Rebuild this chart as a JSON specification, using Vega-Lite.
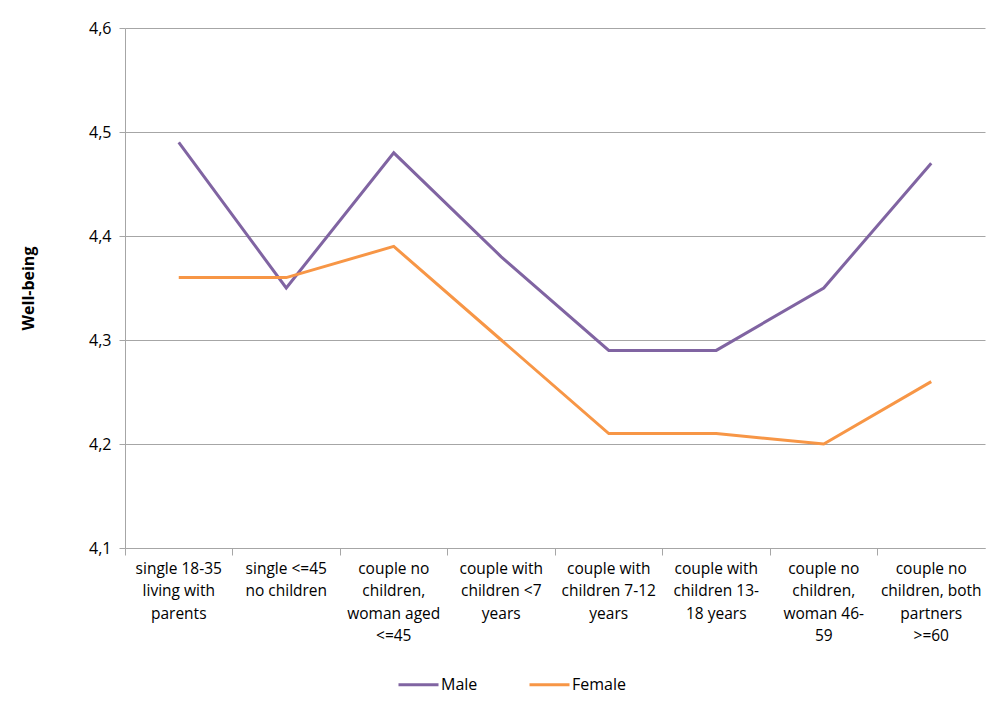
{
  "$schema": "https://vega.github.io/schema/vega-lite/v6.json",
  "width": 860,
  "height": 520,
  "autosize": {"type": "none"},
  "padding": {"left": 125, "top": 28, "right": 15, "bottom": 165},
  "background": "white",
  "config": {
    "view": {"stroke": null},
    "font": "Open Sans",
    "axis": {"labelFont": "Open Sans", "titleFont": "Open Sans", "labelColor": "#000", "titleColor": "#000"}
  },
  "data": {
    "values": [
      {"household": "single 18-35 living with parents", "order": 1, "sex": "Male", "wellbeing": 4.49},
      {"household": "single <=45 no children", "order": 2, "sex": "Male", "wellbeing": 4.35},
      {"household": "couple no children, woman aged <=45", "order": 3, "sex": "Male", "wellbeing": 4.48},
      {"household": "couple with children <7 years", "order": 4, "sex": "Male", "wellbeing": 4.38},
      {"household": "couple with children 7-12 years", "order": 5, "sex": "Male", "wellbeing": 4.29},
      {"household": "couple with children 13-18 years", "order": 6, "sex": "Male", "wellbeing": 4.29},
      {"household": "couple no children, woman 46-59", "order": 7, "sex": "Male", "wellbeing": 4.35},
      {"household": "couple no children, both partners >=60", "order": 8, "sex": "Male", "wellbeing": 4.47},
      {"household": "single 18-35 living with parents", "order": 1, "sex": "Female", "wellbeing": 4.36},
      {"household": "single <=45 no children", "order": 2, "sex": "Female", "wellbeing": 4.36},
      {"household": "couple no children, woman aged <=45", "order": 3, "sex": "Female", "wellbeing": 4.39},
      {"household": "couple with children <7 years", "order": 4, "sex": "Female", "wellbeing": 4.30},
      {"household": "couple with children 7-12 years", "order": 5, "sex": "Female", "wellbeing": 4.21},
      {"household": "couple with children 13-18 years", "order": 6, "sex": "Female", "wellbeing": 4.21},
      {"household": "couple no children, woman 46-59", "order": 7, "sex": "Female", "wellbeing": 4.20},
      {"household": "couple no children, both partners >=60", "order": 8, "sex": "Female", "wellbeing": 4.26}
    ]
  },
  "mark": {"type": "line", "strokeWidth": 3},
  "encoding": {
    "x": {
      "field": "household",
      "type": "nominal",
      "sort": {"field": "order"},
      "scale": {"type": "band", "paddingInner": 0, "paddingOuter": 0},
      "axis": {
        "title": null,
        "labelAngle": 0,
        "bandPosition": 0,
        "ticks": true,
        "tickSize": 7,
        "tickColor": "#a6a6a6",
        "domainColor": "#a6a6a6",
        "grid": false,
        "labelFontSize": 15.5,
        "labelPadding": 6,
        "labelLineHeight": 22.5,
        "labelBaseline": "top",
        "labelLimit": 200,
        "labelExpr": "{'single 18-35 living with parents': ['single 18-35', 'living with', 'parents'], 'single <=45 no children': ['single <=45', 'no children'], 'couple no children, woman aged <=45': ['couple no', 'children,', 'woman aged', '<=45'], 'couple with children <7 years': ['couple with', 'children <7', 'years'], 'couple with children 7-12 years': ['couple with', 'children 7-12', 'years'], 'couple with children 13-18 years': ['couple with', 'children 13-', '18 years'], 'couple no children, woman 46-59': ['couple no', 'children,', 'woman 46-', '59'], 'couple no children, both partners >=60': ['couple no', 'children, both', 'partners', '>=60']}[datum.label]"
      }
    },
    "y": {
      "field": "wellbeing",
      "type": "quantitative",
      "scale": {"domain": [4.1, 4.6], "nice": false, "zero": false},
      "axis": {
        "title": "Well-being",
        "titleFontSize": 16,
        "titleFontWeight": "bold",
        "titlePadding": 52,
        "values": [4.1, 4.2, 4.3, 4.4, 4.5, 4.6],
        "format": ".1f",
        "labelExpr": "replace(datum.label, '.', ',')",
        "labelFontSize": 16,
        "labelPadding": 8,
        "tickSize": 6,
        "tickColor": "#a6a6a6",
        "domainColor": "#a6a6a6",
        "gridColor": "#a6a6a6",
        "gridWidth": 1
      }
    },
    "color": {
      "field": "sex",
      "type": "nominal",
      "scale": {"domain": ["Male", "Female"], "range": ["#8064a2", "#f79646"]},
      "legend": {
        "title": null,
        "orient": "none",
        "direction": "horizontal",
        "legendX": 272,
        "legendY": 635,
        "symbolType": "stroke",
        "symbolSize": 1600,
        "symbolStrokeWidth": 3,
        "labelFontSize": 16,
        "labelOffset": 1,
        "columnPadding": 45,
        "labelFont": "Open Sans",
        "labelColor": "#000"
      }
    }
  }
}
